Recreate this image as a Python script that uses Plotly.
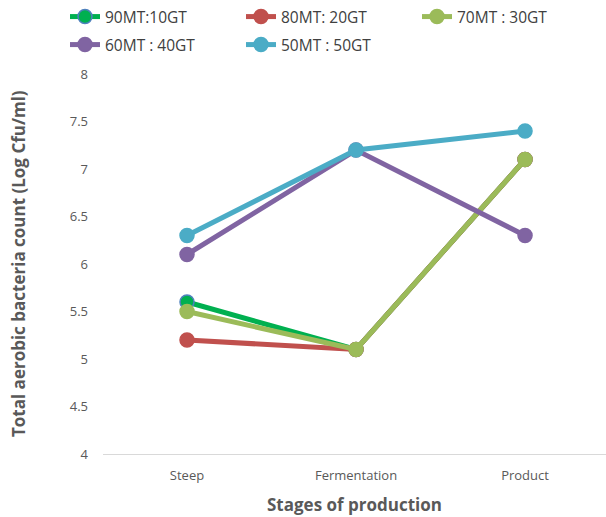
import plotly.graph_objects as go

stages = ["Steep", "Fermentation", "Product"]
series_names = ["90MT:10GT", "80MT: 20GT", "70MT : 30GT", "60MT : 40GT", "50MT : 50GT"]
mt90_gt10 = [5.6, 5.1, 7.1]
mt80_gt20 = [5.2, 5.1, 7.1]
mt70_gt30 = [5.5, 5.1, 7.1]
mt60_gt40 = [6.1, 7.2, 6.3]
mt50_gt50 = [6.3, 7.2, 7.4]
y_ticks = [4, 4.5, 5, 5.5, 6, 6.5, 7, 7.5, 8]
y_title = "Total aerobic bacteria count (Log Cfu/ml)"
x_title = "Stages of production"

colors = ["#00B050", "#C0504D", "#9BBB59", "#8064A2", "#4BACC6"]
edge = ["#4F81BD", "#C0504D", "#9BBB59", "#8064A2", "#4BACC6"]
values = [mt90_gt10, mt80_gt20, mt70_gt30, mt60_gt40, mt50_gt50]

# one small legend box per entry, laid out as a 3 + 2 grid (pixel positions)
legend_ids = ["legend", "legend2", "legend3", "legend4", "legend5"]
legend_xy = [(65, 17), (241, 17), (417, 17), (65, 45), (241, 45)]

fig = go.Figure()
for name, vals, c, e, lg in zip(series_names, values, colors, edge, legend_ids):
    fig.add_trace(go.Scatter(
        x=stages, y=vals, name=name, mode="lines+markers",
        line=dict(color=c, width=5),
        marker=dict(color=c, size=14, line=dict(color=e, width=1.5)),
        legend=lg,
    ))

W, H = 606, 517
font_family = "Open Sans, Liberation Sans, sans-serif"
legend_layout = {}
for lg, (px, py) in zip(legend_ids, legend_xy):
    legend_layout[lg] = dict(
        xref="container", yref="container",
        x=px / W, y=1 - py / H, xanchor="left", yanchor="middle",
        font=dict(size=15.5, color="#404040"),
        bgcolor="rgba(0,0,0,0)",
    )

fig.update_layout(
    width=W, height=H,
    margin=dict(l=103, r=0, t=74, b=63, autoexpand=False),
    paper_bgcolor="white", plot_bgcolor="white",
    font=dict(family=font_family, color="#595959", size=12),
    showlegend=True,
    xaxis=dict(
        type="category", range=[-0.497, 2.479], showgrid=False,
        showline=True, linecolor="#D9D9D9", linewidth=1,
        ticks="", tickfont=dict(size=13, color="#595959"), ticklabelstandoff=9,
        title=dict(text=f"<b>{x_title}</b>", font=dict(size=17, color="#595959"), standoff=16),
    ),
    yaxis=dict(
        range=[4, 8], tickvals=y_ticks, ticktext=[f"{v:g}" for v in y_ticks],
        showgrid=False, zeroline=False, showline=False, ticks="",
        tickfont=dict(size=13, color="#595959"), ticklabelstandoff=14,
    ),
    annotations=[dict(
        text=f"<b>{y_title}</b>", textangle=-90,
        xref="paper", yref="paper", x=0, y=0.5,
        xanchor="center", yanchor="middle", xshift=-85,
        showarrow=False, font=dict(size=17, color="#595959"),
    )],
    **legend_layout,
)

fig.write_html("out.html")
